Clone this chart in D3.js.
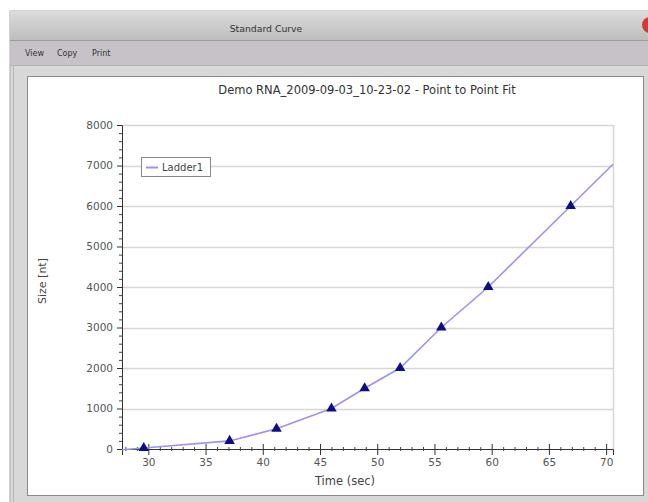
<!DOCTYPE html>
<html><head><meta charset="utf-8">
<script src="https://cdn.jsdelivr.net/npm/d3@7/dist/d3.min.js"></script>
<style>body{margin:0;background:#fff;}svg{display:block;font-family:"DejaVu Sans",Verdana,sans-serif;}</style>
</head><body><svg id="c" width="648" height="502"></svg>
<script>
// Data
const times = [29.6, 37.1, 41.2, 46.0, 48.9, 52.0, 55.6, 59.7, 66.9];
const sizes = [25, 200, 500, 1000, 1500, 2000, 3000, 4000, 6000];
// point-to-point fit line incl. extrapolated ends
const fitTimes = [27.7, 29.6, 37.1, 41.2, 46.0, 48.9, 52.0, 55.6, 59.7, 66.9, 70.6];
const fitSizes = [-20, 25, 200, 500, 1000, 1500, 2000, 3000, 4000, 6000, 7030];
const xTicks = [30, 35, 40, 45, 50, 55, 60, 65, 70];
const yTicks = [0, 1000, 2000, 3000, 4000, 5000, 6000, 7000, 8000];
const menuItems = ["View", "Copy", "Print"];
const windowTitle = "Standard Curve";
const chartTitle = "Demo RNA_2009-09-03_10-23-02 - Point to Point Fit";
const seriesName = "Ladder1";

const svg = d3.select("#c");
const defs = svg.append("defs");
const g1 = defs.append("linearGradient").attr("id","tb").attr("x1",0).attr("y1",0).attr("x2",0).attr("y2",1);
g1.append("stop").attr("offset","0").attr("stop-color","#dcdcdc");
g1.append("stop").attr("offset","1").attr("stop-color","#bdbdbd");

// window frame
svg.append("rect").attr("x",10).attr("y",11).attr("width",650).attr("height",500).attr("fill","#d9d8d9").attr("stroke","#a8a8a8");
svg.append("rect").attr("x",10).attr("y",11).attr("width",650).attr("height",29).attr("fill","url(#tb)");
svg.append("line").attr("x1",10).attr("x2",648).attr("y1",40.5).attr("y2",40.5).attr("stroke","#9c9c9c");
svg.append("rect").attr("x",11).attr("y",41).attr("width",640).attr("height",24).attr("fill","#c6c2c7");
svg.append("line").attr("x1",10).attr("x2",648).attr("y1",65.5).attr("y2",65.5).attr("stroke","#b4b0b4");
svg.append("line").attr("x1",13.5).attr("x2",13.5).attr("y1",66).attr("y2",502).attr("stroke","#b6b6b6");
svg.append("text").attr("x",266).attr("y",32).attr("text-anchor","middle").attr("font-size",9.3).attr("fill","#333").text(windowTitle);
svg.append("circle").attr("cx",650).attr("cy",25).attr("r",8).attr("fill","#d23a3a");
const menuX = [25, 57, 92];
svg.selectAll(".menu").data(menuItems).join("text").attr("x",(d,i)=>menuX[i]).attr("y",56).attr("font-size",8).attr("fill","#333").text(d=>d);

// chart panel
svg.append("rect").attr("x",27.5).attr("y",76.5).attr("width",616).attr("height",419).attr("fill","#fff").attr("stroke","#8a8a8a");

const L=122, R=613, T=125, B=449;
const x = d3.scaleLinear().domain([27.7, 70.6]).range([L, R]);
const y = d3.scaleLinear().domain([0, 8000]).range([B, T]);

// plot border right + gridlines
svg.append("line").attr("x1",R+0.5).attr("x2",R+0.5).attr("y1",T).attr("y2",B).attr("stroke","#d6d6d6").attr("stroke-width",1.5);
svg.selectAll(".grid").data(yTicks.filter(d=>d>0)).join("line")
  .attr("x1",L).attr("x2",R).attr("y1",d=>Math.round(y(d))+0.5).attr("y2",d=>Math.round(y(d))+0.5)
  .attr("stroke","#d6d6d6").attr("stroke-width",1.5);

// y axis
const yAxis = svg.append("g").attr("transform",`translate(${L},0)`)
  .call(d3.axisLeft(y).tickValues(yTicks).tickSize(5).tickPadding(4).tickFormat(d3.format("d")));
yAxis.select(".domain").attr("stroke","#333");
yAxis.selectAll(".tick line").attr("stroke","#333");
yAxis.selectAll("text").attr("font-size",10.5).attr("fill","#555").attr("font-family","DejaVu Sans, sans-serif");
const yMinor = d3.range(0, 8001, 200).filter(v=>v%1000!==0);
svg.append("g").attr("transform",`translate(${L},0)`)
  .call(d3.axisLeft(y).tickValues(yMinor).tickSize(3).tickFormat(""))
  .call(s=>{s.select(".domain").remove(); s.selectAll("line").attr("stroke","#444");});

// x axis
const xAxis = svg.append("g").attr("transform",`translate(0,${B})`)
  .call(d3.axisBottom(x).tickValues(xTicks).tickSize(6).tickPadding(4));
xAxis.select(".domain").attr("stroke","#333");
xAxis.selectAll(".tick line").attr("stroke","#333").attr("y1",-5);
xAxis.selectAll("text").attr("font-size",10.5).attr("fill","#555").attr("font-family","DejaVu Sans, sans-serif");
const xMinor = d3.range(28, 71, 1).filter(v=>v%5!==0);
svg.append("g").attr("transform",`translate(0,${B})`)
  .call(d3.axisBottom(x).tickValues(xMinor).tickSize(2).tickFormat(""))
  .call(s=>{s.select(".domain").remove(); s.selectAll("line").attr("stroke","#444").attr("y1",-2);});

// labels
svg.append("text").attr("x",367).attr("y",94).attr("text-anchor","middle").attr("font-size",11.5).attr("fill","#333").text(chartTitle);
svg.append("text").attr("x",345).attr("y",485).attr("text-anchor","middle").attr("font-size",11.5).attr("fill","#444").text("Time (sec)");
svg.append("text").attr("transform","translate(46,281) rotate(-90)").attr("text-anchor","middle").attr("font-size",11).attr("fill","#444").text("Size [nt]");

// line
const fit = fitTimes.map((t,i)=>[t, fitSizes[i]]);
svg.append("path").datum(fit).attr("fill","none").attr("stroke","#9b93ee").attr("stroke-width",1.6)
  .attr("d", d3.line().x(d=>x(d[0])).y(d=>y(d[1])));

// markers
svg.selectAll(".pt").data(times.map((t,i)=>[t,sizes[i]])).join("path")
  .attr("transform",d=>`translate(${x(d[0])},${y(d[1])})`)
  .attr("d", d3.symbol().type(d3.symbolTriangle).size(48))
  .attr("fill","#0d0d85");

// legend
svg.append("rect").attr("x",141.5).attr("y",157.5).attr("width",69).attr("height",19).attr("fill","#fff").attr("stroke","#888");
svg.append("line").attr("x1",146).attr("x2",158).attr("y1",167.5).attr("y2",167.5).attr("stroke","#9b93ee").attr("stroke-width",2);
svg.append("text").attr("x",162).attr("y",171).attr("font-size",10).attr("fill","#444").text(seriesName);
</script></body></html>
